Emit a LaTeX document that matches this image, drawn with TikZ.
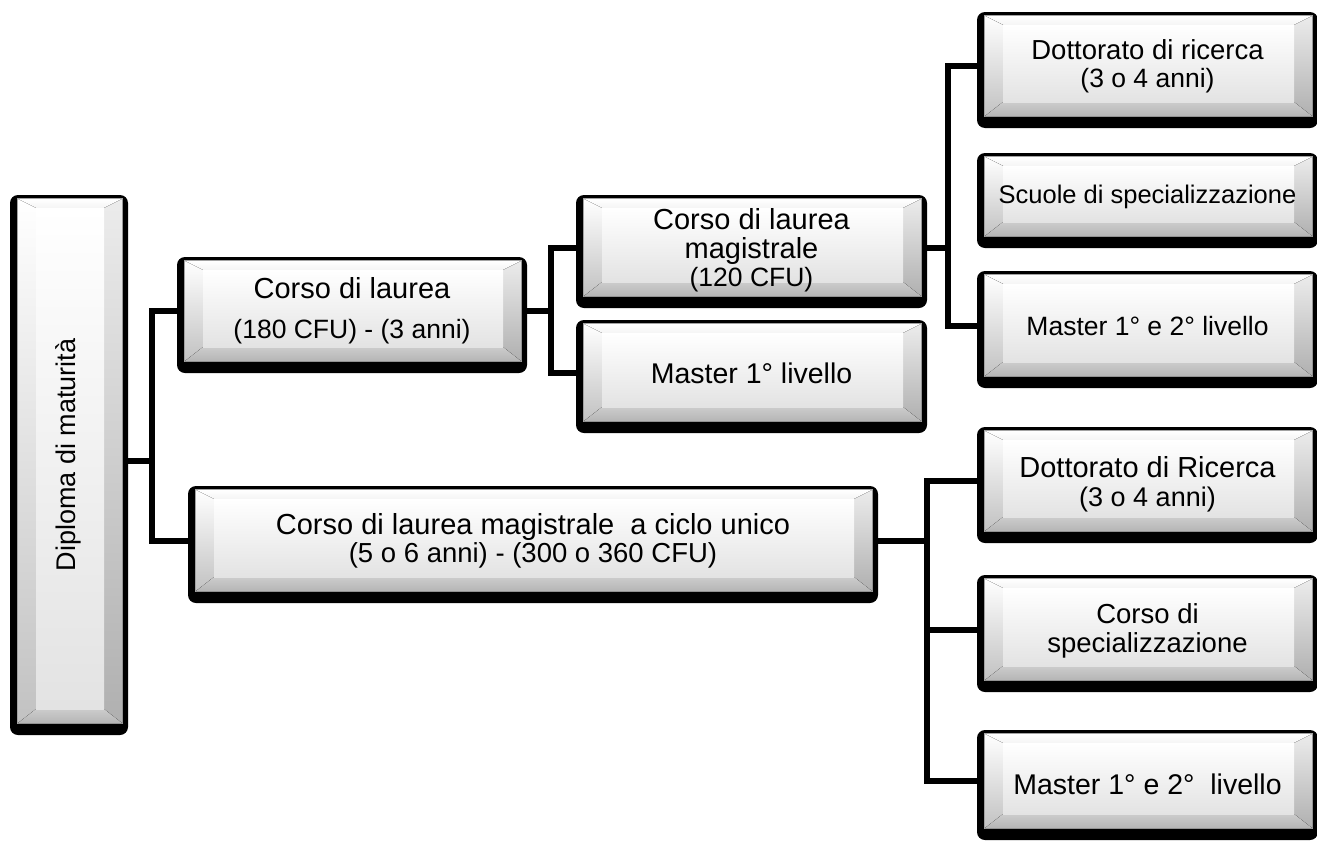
\documentclass[tikz,border=0pt]{standalone}
\usepackage{fontspec}
\setmainfont{Liberation Sans}
\tikzset{
  conn/.style={line width=6pt, black},
  boxtext/.style={align=center, inner sep=0pt, text=black},
  boxnode/.style={inner sep=0pt, draw=none},
}
% #1 name, #2 x1, #3 y1, #4 x2, #5 y2, #6 font, #7 text, #8 text offset (down)
\newcommand\bevbox[8]{%
  \pgfmathsetmacro\ax{#2+7}%
  \pgfmathsetmacro\ay{#3+3}%
  \pgfmathsetmacro\bx{#4-5}%
  \pgfmathsetmacro\by{#5-11}%
  \pgfmathsetmacro\cx{\ax+19}%
  \pgfmathsetmacro\cy{\ay+10}%
  \pgfmathsetmacro\dx{\bx-19}%
  \pgfmathsetmacro\dy{\by-15}%
  \pgfmathsetmacro\mx{(#2+#4)/2}%
  \pgfmathsetmacro\my{(\ay+\by)/2}%
  \pgfmathsetmacro\ty{\my+#8}%
  \pgfmathsetmacro\bw{#4-#2}%
  \pgfmathsetmacro\bh{\by-\ay}%
  \fill[black, rounded corners=8pt] (#2,#3) rectangle (#4,#5);
  \fill[gray!72] (\ax,\ay) rectangle (\bx,\by);
  \fill[top color=white, bottom color=gray!8] (\ax+1,\ay+1) -- (\bx-1,\ay+1) -- (\dx,\cy) -- (\cx,\cy) -- cycle;
  \fill[top color=white, bottom color=gray!48] (\ax+1,\ay+1) -- (\cx,\cy) -- (\cx,\dy) -- (\ax+1,\by-1) -- cycle;
  \fill[top color=gray!15, bottom color=gray!62] (\bx-1,\ay+1) -- (\dx,\cy) -- (\dx,\dy) -- (\bx-1,\by-1) -- cycle;
  \fill[top color=gray!40, bottom color=gray!58] (\ax+1,\by-1) -- (\cx,\dy) -- (\dx,\dy) -- (\bx-1,\by-1) -- cycle;
  \fill[top color=white, bottom color=gray!22] (\cx,\cy) rectangle (\dx,\dy);
  \node[boxnode, minimum width=\bw pt, minimum height=\bh pt] (#1) at (\mx,\my) {};
  \node[boxtext, font={#6}] (#1-t) at (\mx,\ty) {#7};
}
\begin{document}
\begin{tikzpicture}[x=1pt,y=-1pt]
\fill[white] (0,0) rectangle (1317,841);
\clip (0,0) rectangle (1317,841);

\bevbox{dip}{10}{195}{128}{735}{\normalsize}{}{0}
\node[rotate=90, inner sep=0pt, font={\fontsize{27}{30}\selectfont}] (diptxt) at (68,455) {Diploma di maturità};

\bevbox{cdl}{177}{257}{527}{373}{\fontsize{29}{40}\selectfont}{Corso di laurea\\{\fontsize{26.5}{26.5}\selectfont (180 CFU) - (3 anni)}}{0}
\bevbox{clm}{576}{195}{927}{308}{\fontsize{29}{29}\selectfont}{Corso di laurea\\magistrale\\[-1pt]{\fontsize{26.5}{26.5}\selectfont (120 CFU)}}{3}
\bevbox{mone}{576}{320}{927}{433}{\fontsize{28.5}{30}\selectfont}{Master 1° livello}{1}

\bevbox{dotone}{977}{12}{1318}{128}{\fontsize{27.5}{28}\selectfont}{Dottorato di ricerca\\{\fontsize{26.5}{26.5}\selectfont (3 o 4 anni)}}{0}
\bevbox{scu}{977}{153}{1318}{248}{\fontsize{25.5}{27}\selectfont}{Scuole di specializzazione}{0}
\bevbox{mtwoa}{977}{271}{1318}{388}{\fontsize{26.5}{28}\selectfont}{Master 1° e 2° livello}{1}

\bevbox{cu}{188}{486}{878}{603}{\fontsize{29}{28}\selectfont}{Corso di laurea magistrale\ \ a ciclo unico\\{\fontsize{27.5}{27.5}\selectfont (5 o 6 anni) - (300 o 360 CFU)}}{0}

\bevbox{dottwo}{977}{427}{1318}{543}{\fontsize{29}{29}\selectfont}{Dottorato di Ricerca\\{\fontsize{27}{27}\selectfont (3 o 4 anni)}}{3}
\bevbox{cds}{977}{575}{1318}{692}{\fontsize{27.5}{29}\selectfont}{Corso di\\specializzazione}{1}
\bevbox{mtwob}{977}{730}{1318}{840}{\fontsize{28.5}{30}\selectfont}{Master 1° e 2°\ \ livello}{3}

\draw[conn] (dip.east) -- ++(24,0) |- (cdl.west);
\draw[conn] (dip.east) -- ++(24,0) |- (cu.west);
\draw[conn] (cdl.east) -- ++(24,0) |- (clm.west);
\draw[conn] (cdl.east) -- ++(24,0) |- (mone.west);
\draw[conn] (clm.east) -- ++(21,0) |- (dotone.west);
\draw[conn] (clm.east) -- ++(21,0) |- (mtwoa.west);
\draw[conn] (cu.east) -- ++(49,0) |- (dottwo.west);
\draw[conn] (cu.east) -- ++(49,0) |- (cds.west);
\draw[conn] (cu.east) -- ++(49,0) |- (mtwob.west);
\end{tikzpicture}
\end{document}
